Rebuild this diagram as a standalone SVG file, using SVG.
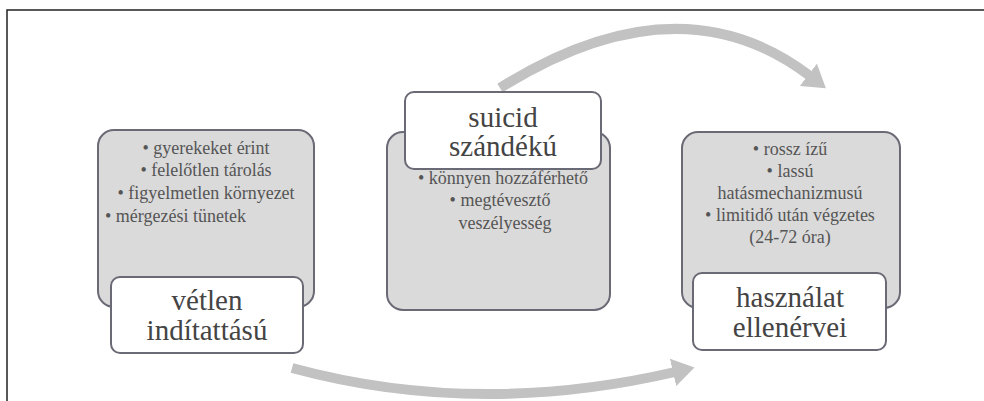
<svg xmlns="http://www.w3.org/2000/svg" width="984" height="401" viewBox="0 0 984 401">
<style>
.frame{fill:none;stroke:#222;stroke-width:1.5}
.card{fill:#dadada;stroke:#6a6a76;stroke-width:2}
.label{fill:#fff;stroke:#6a6a76;stroke-width:2}
text{font-family:'Liberation Serif','Times New Roman','DejaVu Serif',serif}
.small{font-size:18px;fill:#555;text-anchor:middle}
.big{font-size:29px;fill:#444;text-anchor:middle}
.arc{fill:none;stroke:#c2c2c2;stroke-width:10}
</style>
<defs>
<marker id="head" markerUnits="userSpaceOnUse" markerWidth="26" markerHeight="28" refX="2" refY="14" orient="auto" viewBox="0 0 26 28">
<path d="M0,0 L22,14 L0,28 Z" fill="#c2c2c2"/>
</marker>
</defs>
<rect width="984" height="401" fill="#fff"/>
<path class="frame" d="M7,401 V10 H984"/>
<g id="connectors">
<path class="arc" d="M500,88 Q679,-24 810,76" marker-end="url(#head)"/>
<path class="arc" d="M292,368 Q476,418 675,372" marker-end="url(#head)"/>
</g>
<g id="node-vetlen">
<rect class="card" x="98" y="130" width="216" height="177" rx="16"/>
<text class="small" x="206" y="154">• gyerekeket érint</text>
<text class="small" x="206" y="176">• felelőtlen tárolás</text>
<text class="small" x="206" y="199">• figyelmetlen környezet</text>
<text class="small" x="105" y="222" style="text-anchor:start">• mérgezési tünetek</text>
<rect class="label" x="111" y="277" width="192" height="76" rx="9"/>
<text class="big" x="207" y="310">vétlen</text>
<text class="big" x="207" y="340">indítattású</text>
</g>
<g id="node-suicid">
<rect class="card" x="387" y="132" width="223" height="178" rx="16"/>
<rect class="label" x="405" y="92" width="196" height="77" rx="9"/>
<text class="big" x="503" y="127">suicid</text>
<text class="big" x="503" y="156">szándékú</text>
<text class="small" x="503" y="184">• könnyen hozzáférhető</text>
<text class="small" x="500" y="206">• megtévesztő</text>
<text class="small" x="505" y="229">veszélyesség</text>
</g>
<g id="node-hasznalat">
<rect class="card" x="682" y="132" width="218" height="176" rx="16"/>
<text class="small" x="790" y="155">• rossz ízű</text>
<text class="small" x="790" y="177">• lassú</text>
<text class="small" x="790" y="199">hatásmechanizmusú</text>
<text class="small" x="790" y="221">• limitidő után végzetes</text>
<text class="small" x="790" y="243">(24-72 óra)</text>
<rect class="label" x="693" y="273" width="193" height="77" rx="9"/>
<text class="big" x="790" y="307">használat</text>
<text class="big" x="790" y="337">ellenérvei</text>
</g>
</svg>
